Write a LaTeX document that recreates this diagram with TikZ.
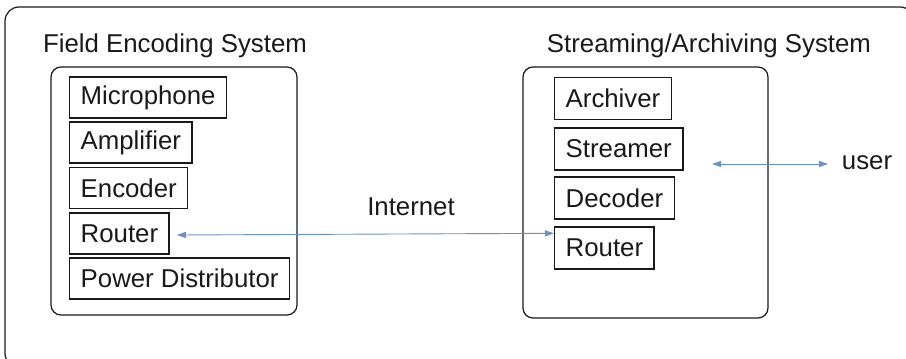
\documentclass[tikz,border=0pt]{standalone}
\usepackage{fontspec}
\setmainfont{Liberation Sans}
\usetikzlibrary{arrows.meta}
\definecolor{arrowblue}{RGB}{105,145,205}
\definecolor{ink}{RGB}{25,25,25}
\tikzset{
  comp/.style={draw=ink, line width=1.4pt, anchor=west, inner xsep=11pt, inner ysep=0pt,
    font=\fontsize{25.8}{30}\selectfont, text=ink, minimum height=41pt},
  group/.style={draw=ink, line width=1.2pt, rounded corners=10pt},
  label/.style={font=\fontsize{25.8}{30}\selectfont, text=ink},
  link/.style={draw=arrowblue, line width=0.9pt, {Triangle[length=9pt,width=6pt]}-{Triangle[length=9pt,width=6pt]}}
}
\begin{document}
\begin{tikzpicture}[x=1pt,y=-1pt]
\useasboundingbox (0,0) rectangle (906,359);
\begin{scope}
\clip (0,0) rectangle (906,359);
\draw[ink, line width=1.2pt, rounded corners=14pt] (5,7) rectangle (914,367);
\end{scope}
\draw[group] (51,67) rectangle (297,315);
\draw[group] (523,67) rectangle (768,318);
\node[label] (t1) at (175,46) {Field Encoding System};
\node[label] (t2) at (709,46) {Streaming/Archiving System};
\node[label] (net) at (411,207) {Internet};
\node[label] (user) at (867,163) {user};
\node[comp] (mic) at (69,97.5) {Microphone};
\node[comp] (amp) at (69,142.5) {Amplifier};
\node[comp] (enc) at (69,188) {Encoder};
\node[comp] (lrouter) at (69,233.5) {Router};
\node[comp] (pow) at (69,278.5) {Power Distributor};
\node[comp, minimum height=42pt] (arch) at (554,98.5) {Archiver};
\node[comp, minimum height=42pt] (str) at (554,149) {Streamer};
\node[comp, minimum height=42pt] (dec) at (554,198) {Decoder};
\node[comp, minimum height=42pt] (rrouter) at (554,248) {Router};
\coordinate (ua) at (712,164);
\coordinate (ub) at (828,164);
\draw[link] ([xshift=7pt,yshift=-1.5pt]lrouter.east) -- ([yshift=-7pt]rrouter.north west);
\draw[link] (ua) -- (ub);
\end{tikzpicture}
\end{document}
